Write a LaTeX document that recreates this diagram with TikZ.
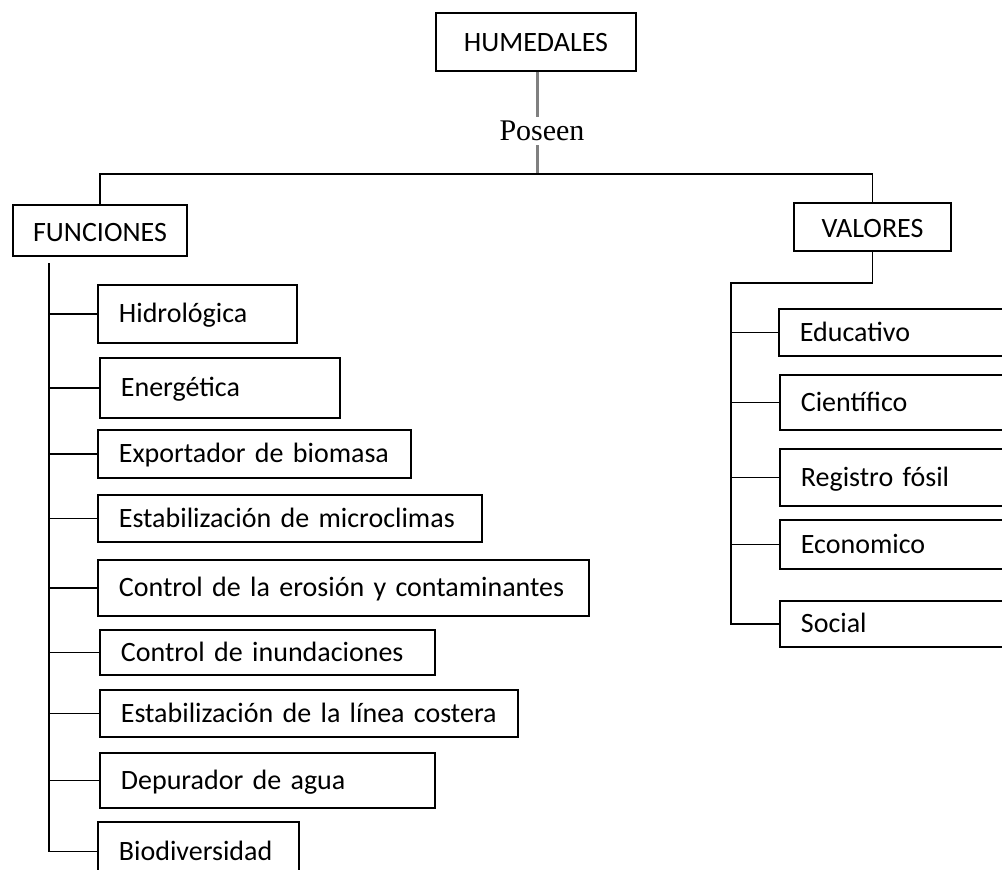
\documentclass[tikz,border=0pt]{standalone}
\usepackage{fontspec}
\setmainfont{Carlito}
\newfontfamily\serifa{Liberation Serif}
\usetikzlibrary{positioning}

\tikzset{
	caja/.style={draw,line width=1.8pt,inner xsep=0pt,inner ysep=0pt,text height=22pt,text depth=4pt,font=\fontsize{28}{32}\selectfont},
	hoja/.style={caja,anchor=north west,inner xsep=21pt,text width=#1-42pt,align=left},
	rama/.style={line width=1.8pt},
	enlace/.style={line width=3pt,color=black!50}
}

\begin{document}
\begin{tikzpicture}[x=1pt,y=-1pt]
\useasboundingbox (0,0) rectangle (1002,870);
\clip (0,0) rectangle (1002,870);

\node[caja,minimum width=200pt,minimum height=58pt] (hum) at (536,42) {HUMEDALES};
\node[font=\serifa\fontsize{30}{34}\selectfont,inner sep=4pt] (pos) at (542,131) {Poseen};
\node[caja,minimum width=174pt,minimum height=51pt,text depth=1pt] (fun) at (100,230.5) {FUNCIONES};
\node[caja,minimum width=157pt,minimum height=48pt,text depth=1pt] (val) at (872.5,227) {VALORES};

% funciones
\node[hoja=199pt,minimum height=58pt] (hid) at (97,284) {Hidrológica};
\node[hoja=240pt,minimum height=60pt] (ene) at (99,357) {Energética};
\node[hoja=313pt,minimum height=48pt] (exp) at (97,429) {Exportador de biomasa};
\node[hoja=384pt,minimum height=47pt] (mic) at (97,494) {Estabilización de microclimas};
\node[hoja=491pt,minimum height=56pt] (ero) at (97,559) {Control de la erosión y contaminantes};
\node[hoja=335pt,minimum height=45pt] (inu) at (99,629) {Control de inundaciones};
\node[hoja=418pt,minimum height=47pt] (cos) at (99,689) {Estabilización de la línea costera};
\node[hoja=335pt,minimum height=55pt] (dep) at (99,752) {Depurador de agua};
\node[hoja=201pt,minimum height=59pt] (bio) at (97,821) {Biodiversidad};

% valores
\node[hoja=240pt,minimum height=47pt] (edu) at (778,308) {Educativo};
\node[hoja=240pt,minimum height=55pt] (cie) at (779,374) {Científico};
\node[hoja=240pt,minimum height=57pt] (reg) at (779,448) {Registro fósil};
\node[hoja=240pt,minimum height=49pt] (eco) at (779,519) {Economico};
\node[hoja=240pt,minimum height=46pt] (soc) at (779,600) {Social};

\coordinate (bar) at (537,174);
\coordinate (ftr) at (49,263);
\coordinate (vtr) at (731,283);

\draw[enlace] (hum.south -| bar) -- (bar |- pos.north);
\draw[enlace] (bar |- pos.south) -- (bar);
\draw[rama] (fun.north) |- (bar) -| (val.north);

\draw[rama] (ftr) |- (bio.west);
\foreach \n in {hid,ene,exp,mic,ero,inu,cos,dep}
	\draw[rama] (ftr |- \n.west) -- (\n.west);

\draw[rama] (val.south) |- (vtr) |- (soc.west);
\foreach \n in {edu,cie,reg,eco}
	\draw[rama] (vtr |- \n.west) -- (\n.west);

\end{tikzpicture}
\end{document}
